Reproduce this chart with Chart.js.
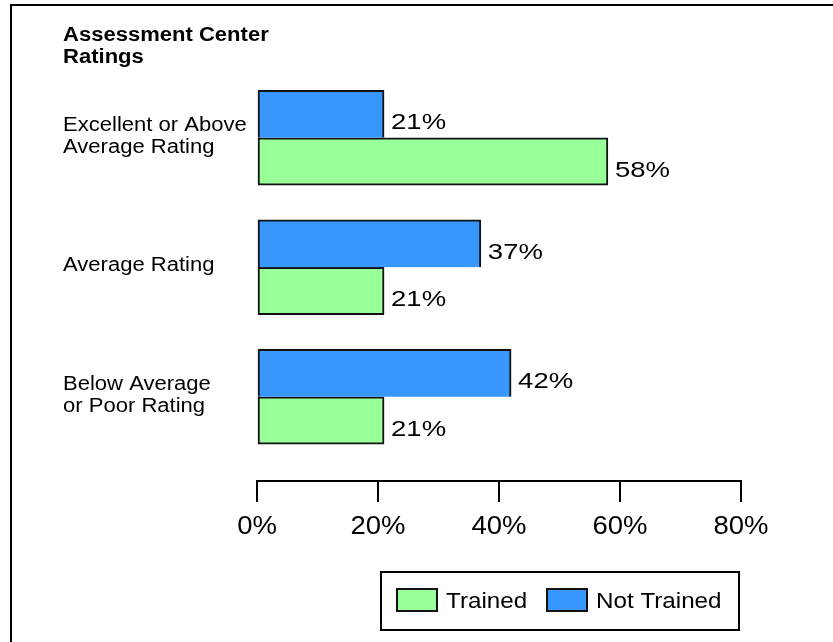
<!DOCTYPE html>
<html><head><meta charset="utf-8">
<script src="https://cdn.jsdelivr.net/npm/chart.js@4"></script>
<style>
html,body{margin:0;padding:0;background:#fff;}
#wrap{position:relative;width:833px;height:642px;overflow:hidden;}
#frame{position:absolute;left:10px;top:4px;width:830px;height:650px;border-left:2px solid #000;border-top:2px solid #000;}
canvas{position:absolute;left:0;top:0;}
</style></head><body>
<div id="wrap"><div id="frame"></div><canvas id="c" width="833" height="642"></canvas></div>
<script>
const titleLines = ['Assessment Center', 'Ratings'];
const categories = [['Excellent or Above', 'Average Rating'], ['Average Rating'], ['Below Average', 'or Poor Rating']];
const seriesNames = ['Not Trained', 'Trained'];
const notTrained = [21, 37, 42];
const trained = [58, 21, 21];
const tickValues = [0, 20, 40, 60, 80];
const tickLabels = ['0%', '20%', '40%', '60%', '80%'];

const FONT = '"Liberation Sans", Arial, sans-serif';

function drawText(ctx, str, x, y, font, sx, align) {
  ctx.save();
  ctx.font = font;
  ctx.fillStyle = '#000';
  ctx.textBaseline = 'alphabetic';
  ctx.textAlign = align || 'left';
  ctx.translate(x, y);
  ctx.scale(sx, 1);
  ctx.fillText(str, 0, 0);
  ctx.restore();
}

const textPlugin = {
  id: 'texts',
  afterDraw(chart) {
    const ctx = chart.ctx;
    const xs = chart.scales.x, ys = chart.scales.y;
    // title
    titleLines.forEach((t, i) => drawText(ctx, t, 63, 40.5 + i * 22.5, 'bold 19.5px ' + FONT, 1.13));
    // category labels
    categories.forEach((lines, i) => {
      const c = ys.getPixelForValue(i);
      const b0 = c + 4 - (lines.length - 1) * 10.75;
      lines.forEach((l, j) => drawText(ctx, l, 63, b0 + j * 21.5, '19.5px ' + FONT, 1.13));
    });
    // value labels
    chart.data.datasets.forEach((ds, d) => {
      chart.getDatasetMeta(d).data.forEach((el, i) => {
        drawText(ctx, ds.data[i] + '%', el.x + 7, el.y + 15, '22px ' + FONT, 1.25);
      });
    });
    // x tick labels
    tickValues.forEach((v, i) => {
      drawText(ctx, tickLabels[i], xs.getPixelForValue(v), 534, '25px ' + FONT, 1.1, 'center');
    });
    // legend
    const bx = 381, by = 572, bw = 358, bh = 58;
    ctx.save();
    ctx.strokeStyle = '#000';
    ctx.lineWidth = 2;
    ctx.strokeRect(bx, by, bw, bh);
    const items = [1, 0];
    const swX = [397, 547], txX = [446, 596];
    items.forEach((d, k) => {
      const ds = chart.data.datasets[d];
      ctx.fillStyle = ds.backgroundColor;
      ctx.fillRect(swX[k], 589, 40, 22);
      ctx.lineWidth = 2;
      ctx.strokeStyle = '#111';
      ctx.strokeRect(swX[k], 589, 40, 22);
      drawText(ctx, ds.label, txX[k], 608, '22px ' + FONT, 1.1);
    });
    ctx.restore();
  }
};

new Chart(document.getElementById('c'), {
  type: 'bar',
  data: {
    labels: categories.map(c => c.join(' ')),
    datasets: [
      { label: seriesNames[0], data: notTrained, xAxisID: 'x', yAxisID: 'y',
        backgroundColor: '#3797FD', borderColor: '#111', borderWidth: 2, borderSkipped: 'bottom', barThickness: 47.5 },
      { label: seriesNames[1], data: trained, xAxisID: 'x', yAxisID: 'y',
        backgroundColor: '#99FF99', borderColor: '#111', borderWidth: 2, borderSkipped: false, barThickness: 47.5 }
    ]
  },
  options: {
    indexAxis: 'y',
    responsive: false,
    animation: false,
    devicePixelRatio: 1,
    layout: { padding: { left: 257, right: 92, top: 73, bottom: 101 } },
    plugins: { legend: { display: false }, tooltip: { enabled: false } },
    scales: {
      y: { display: false, offset: true, grid: { display: false } },
      xs: { type: 'linear', position: 'bottom', weight: 0, display: true,
            ticks: { display: false }, grid: { display: false }, border: { display: false },
            afterFit(s) { s.height = 19.5; } },
      x: { type: 'linear', position: 'bottom', weight: 1, min: 0, max: 80,
           afterBuildTicks(s) { s.ticks = tickValues.map(v => ({ value: v })); },
           ticks: { display: false },
           grid: { display: true, drawOnChartArea: false, drawTicks: true, tickLength: 21, lineWidth: 2, tickWidth: 2, color: '#000' },
           border: { display: true, color: '#000', width: 2 },
           afterFit(s) { s.height = 60; } }
    }
  },
  plugins: [textPlugin]
});
</script>
</body></html>
